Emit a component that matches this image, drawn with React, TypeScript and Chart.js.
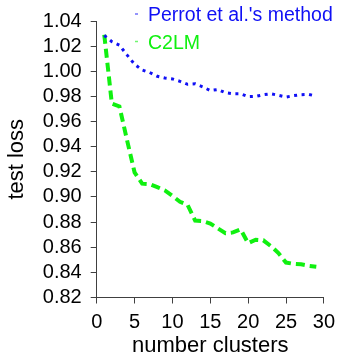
import React, { useEffect, useRef } from "react";
import { Chart, registerables } from "chart.js";

Chart.register(...registerables);

const clusters = [1, 2, 3, 4, 5, 6, 7, 8, 9, 10, 11, 12, 13, 14, 15, 16, 17, 18, 19, 20, 21, 22, 23, 24, 25, 26, 27, 28, 29];
const perrotLoss = [1.0285, 1.0236, 1.0208, 1.013, 1.0056, 1.001, 0.999, 0.996, 0.9946, 0.9939, 0.992, 0.9896, 0.99, 0.9876, 0.9847, 0.9855, 0.9829, 0.9821, 0.9821, 0.9798, 0.98, 0.9813, 0.9821, 0.9809, 0.9795, 0.9806, 0.9813, 0.9816, 0.9802];
const c2lmLoss = [1.029, 0.9743, 0.972, 0.9454, 0.9196, 0.9106, 0.9102, 0.9078, 0.9052, 0.9008, 0.8961, 0.8937, 0.8812, 0.8808, 0.8789, 0.875, 0.8711, 0.8718, 0.8742, 0.8632, 0.866, 0.8655, 0.8609, 0.8554, 0.8478, 0.8468, 0.8464, 0.8452, 0.8445];
const xTicks = [0, 5, 10, 15, 20, 25, 30];
const yTicks = [0.82, 0.84, 0.86, 0.88, 0.9, 0.92, 0.94, 0.96, 0.98, 1.0, 1.02, 1.04];
const seriesNames = ["Perrot et al.'s method", "C2LM"];
const seriesColors = ["#1010f5", "#10f010"];

const FONT = "'Liberation Sans', Arial, Helvetica, sans-serif";
const AXIS = "#404040";

const legendPlugin = {
  id: "customLegend",
  afterDraw(chart: any) {
    const ctx = chart.ctx;
    ctx.save();
    ctx.font = `19.5px ${FONT}`;
    ctx.textBaseline = "alphabetic";
    ctx.textAlign = "left";
    const rows = [21, 48.5];
    seriesNames.forEach((name, i) => {
      ctx.strokeStyle = seriesColors[i];
      ctx.globalAlpha = 0.6;
      ctx.lineWidth = 1.5;
      ctx.beginPath();
      ctx.moveTo(135, rows[i] - 7);
      ctx.lineTo(138, rows[i] - 7);
      ctx.stroke();
      ctx.globalAlpha = 1;
      ctx.fillStyle = seriesColors[i];
      ctx.fillText(name, 148, rows[i]);
    });
    ctx.restore();
  },
};

export default function App() {
  const ref = useRef<HTMLCanvasElement>(null);
  useEffect(() => {
    document.body.style.margin = "0";
    const canvas = ref.current!;
    const chart = new Chart(canvas, {
      type: "line",
      data: {
        datasets: [
          {
            label: seriesNames[0],
            data: clusters.map((x, i) => ({ x, y: perrotLoss[i] })),
            borderColor: seriesColors[0],
            borderWidth: 3,
            borderDash: [3, 4.5],
            pointRadius: 0,
            tension: 0,
            fill: false,
          },
          {
            label: seriesNames[1],
            data: clusters.map((x, i) => ({ x, y: c2lmLoss[i] })),
            borderColor: seriesColors[1],
            borderWidth: 4,
            borderDash: [9, 5],
            pointRadius: 0,
            tension: 0,
            fill: false,
          },
        ],
      },
      options: {
        animation: false,
        responsive: false,
        devicePixelRatio: 1,
        layout: { padding: { left: 0, top: 16, right: 14.7, bottom: 0 } },
        plugins: { legend: { display: false }, tooltip: { enabled: false } },
        scales: {
          x: {
            type: "linear",
            min: 0,
            max: 30,
            afterBuildTicks: (s: any) => {
              s.ticks = xTicks.map((v) => ({ value: v }));
            },
            afterFit: (s: any) => {
              s.height = 59.5;
            },
            ticks: {
              color: "#000",
              font: { family: FONT, size: 20 },
              padding: 7,
              maxRotation: 0,
              autoSkip: false,
            },
            grid: { display: true, drawOnChartArea: false, drawTicks: true, tickLength: 6, color: AXIS },
            border: { display: true, color: AXIS, width: 1 },
            title: {
              display: true,
              text: "number clusters",
              color: "#000",
              font: { family: FONT, size: 22, lineHeight: 1 },
              padding: { top: 0, bottom: 0 },
            },
          },
          y: {
            type: "linear",
            min: 0.82,
            max: 1.04,
            afterBuildTicks: (s: any) => {
              s.ticks = yTicks.map((v) => ({ value: v }));
            },
            afterFit: (s: any) => {
              s.width = 96.7;
            },
            ticks: {
              color: "#000",
              font: { family: FONT, size: 20 },
              padding: 9,
              autoSkip: false,
              callback: (v: any) => Number(v).toFixed(2),
            },
            grid: { display: true, drawOnChartArea: false, drawTicks: true, tickLength: 6, color: AXIS },
            border: { display: true, color: AXIS, width: 1 },
            title: {
              display: true,
              text: "test loss",
              color: "#000",
              font: { family: FONT, size: 22, lineHeight: 1 },
              padding: { top: 6, bottom: 0 },
            },
          },
        },
      },
      plugins: [legendPlugin],
    });
    return () => chart.destroy();
  }, []);
  return (
    <div style={{ width: 342, height: 357 }}>
      <canvas ref={ref} width={342} height={357} style={{ display: "block", width: 342, height: 357 }} />
    </div>
  );
}
